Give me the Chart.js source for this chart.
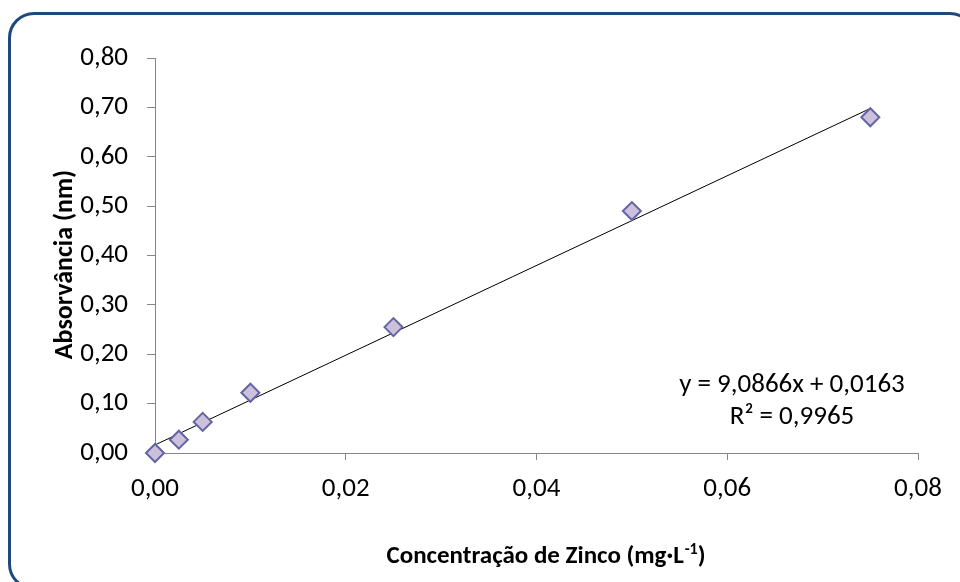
<!DOCTYPE html>
<html>
<head>
<meta charset="utf-8">
<script src="https://cdn.jsdelivr.net/npm/chart.js@4/dist/chart.umd.min.js"></script>
<style>
  html, body { margin: 0; padding: 0; background: #fff; overflow: hidden; }
  #wrap { position: relative; width: 960px; height: 582px; }
  #frame { position: absolute; left: 8px; top: 12px; width: 962px; height: 572px;
           border: 3px solid #1F497D; border-radius: 26px; pointer-events: none; }
</style>
</head>
<body>
<div id="wrap">
  <canvas id="c" width="960" height="582"></canvas>
  <div id="frame"></div>
</div>
<script>
// Data
const concentrations = [0, 0.0025, 0.005, 0.01, 0.025, 0.05, 0.075];
const absorbances    = [0.000, 0.027, 0.063, 0.122, 0.255, 0.490, 0.680];
const trendX = [0, 0.075];
const trendY = [0.0163, 0.6978];
const equationLines = ['y = 9,0866x + 0,0163', 'R\u00B2 = 0,9965'];
const xTitleParts = ['Concentração de Zinco (mg·L', '-1', ')'];
const yTitle = 'Absorvância (nm)';

const FONT = "Carlito, Lato, 'Liberation Sans', sans-serif";
const fmt = v => Number(v).toFixed(2).replace('.', ',');

const textPlugin = {
  id: 'texts',
  afterDatasetsDraw(chart) {
    const ctx = chart.ctx;
    const area = chart.chartArea;
    ctx.save();
    ctx.fillStyle = '#000';
    // trendline equation
    ctx.font = '27px ' + FONT;
    ctx.textAlign = 'center';
    ctx.textBaseline = 'middle';
    ctx.fillText(equationLines[0], 792, 385);
    ctx.fillText(equationLines[1], 792, 417);

    // x axis title with superscript
    const mainFont = 'bold 25px ' + FONT;
    const supFont = 'bold 16px ' + FONT;
    ctx.textAlign = 'left';
    ctx.textBaseline = 'alphabetic';
    ctx.font = mainFont; const w0 = ctx.measureText(xTitleParts[0]).width;
    ctx.font = supFont;  const w1 = ctx.measureText(xTitleParts[1]).width;
    ctx.font = mainFont; const w2 = ctx.measureText(xTitleParts[2]).width;
    const cx = (area.left + area.right) / 2 + 9;
    let x = cx - (w0 + w1 + w2) / 2;
    const base = 563;
    ctx.font = mainFont; ctx.fillText(xTitleParts[0], x, base); x += w0;
    ctx.font = supFont;  ctx.fillText(xTitleParts[1], x + 1, base - 9); x += w1 + 1;
    ctx.font = mainFont; ctx.fillText(xTitleParts[2], x, base);

    // y axis title
    ctx.translate(65, (area.top + area.bottom) / 2 + 9);
    ctx.rotate(-Math.PI / 2);
    ctx.font = 'bold 26px ' + FONT;
    ctx.textAlign = 'center';
    ctx.textBaseline = 'middle';
    ctx.fillText(yTitle, 0, 0);
    ctx.restore();
  }
};

const bgPlugin = {
  id: 'bg',
  beforeDraw(chart) {
    const ctx = chart.ctx;
    ctx.save();
    ctx.fillStyle = '#fff';
    ctx.fillRect(0, 0, chart.width, chart.height);
    ctx.restore();
  }
};

new Chart(document.getElementById('c'), {
  type: 'scatter',
  data: {
    datasets: [
      {
        type: 'line',
        data: trendX.map((x, i) => ({ x, y: trendY[i] })),
        borderColor: '#000',
        borderWidth: 1,
        pointRadius: 0,
        fill: false,
        clip: false,
        order: 2
      },
      {
        data: concentrations.map((x, i) => ({ x, y: absorbances[i] })),
        pointStyle: 'rectRot',
        pointRadius: 9,
        pointBackgroundColor: '#ccc1dd',
        pointBorderColor: '#6464a2',
        pointBorderWidth: 2,
        clip: false,
        order: 1
      }
    ]
  },
  options: {
    responsive: false,
    animation: false,
    events: [],
    layout: { padding: { top: 58, right: 42, bottom: 0, left: 0 } },
    plugins: { legend: { display: false }, tooltip: { enabled: false } },
    scales: {
      x: {
        type: 'linear',
        min: 0, max: 0.08,
        afterFit(s) { s.height = 129; },
        ticks: { stepSize: 0.02, callback: fmt, color: '#000', padding: 13,
                 font: { family: FONT, size: 27 } },
        grid: { drawOnChartArea: false, drawTicks: true, tickLength: 7, color: '#868686' },
        border: { display: true, color: '#868686', width: 1 },
        title: { display: false }
      },
      y: {
        type: 'linear',
        min: 0, max: 0.8,
        afterFit(s) { s.width = 155; },
        ticks: { stepSize: 0.1, callback: fmt, color: '#000', padding: 19,
                 font: { family: FONT, size: 27 } },
        grid: { drawOnChartArea: false, drawTicks: true, tickLength: 8, color: '#868686' },
        border: { display: true, color: '#868686', width: 1 },
        title: { display: false }
      }
    }
  },
  plugins: [bgPlugin, textPlugin]
});
</script>
</body>
</html>
